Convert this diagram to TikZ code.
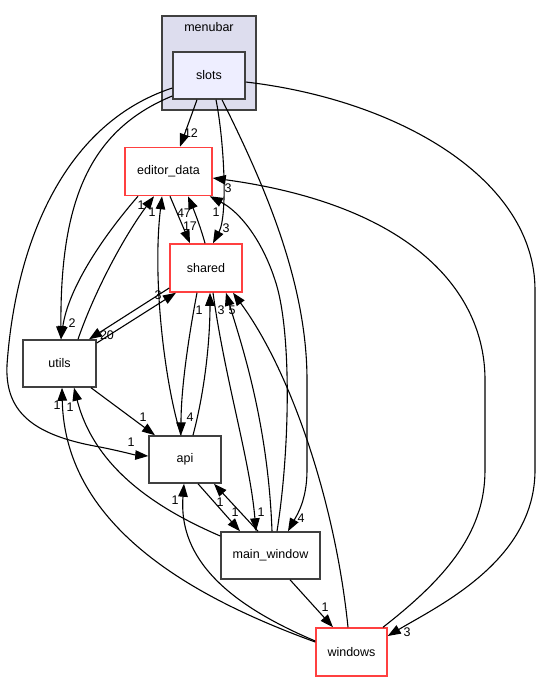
\documentclass[tikz,border=0pt]{standalone}
\usepackage{fontspec}
\setmainfont{Liberation Sans}
\usetikzlibrary{arrows.meta}
\definecolor{redb}{RGB}{255,64,64}
\definecolor{grayb}{RGB}{64,64,64}
\definecolor{clfill}{RGB}{221,221,238}
\definecolor{slfill}{RGB}{238,238,255}
\begin{document}
\begin{tikzpicture}[x=1pt,y=-1pt,
  every node/.style={font=\fontsize{12.5}{15}\selectfont},
  dirbox/.style={draw=grayb,line width=1.5pt,fill=white,minimum width=#1,minimum height=47pt,inner sep=0pt},
  redbox/.style={draw=redb,line width=1.5pt,fill=white,minimum width=#1,minimum height=48pt,inner sep=0pt},
  dep/.style={line width=1.1pt,-{Triangle[length=13pt,width=9.5pt]}},
  lbl/.style={inner sep=0pt}
]
\useasboundingbox[fill=white] (0,0) rectangle (541,681);
% cluster
\node[draw=grayb,line width=1.5pt,fill=clfill,minimum width=94pt,minimum height=94pt,inner sep=0pt] (menubar) at (209,63) {};
\node[lbl] (menubarlabel) at (209,27.5) {menubar};
% nodes
\node[dirbox=72pt,fill=slfill] (slots) at (209,75.5) {slots};
\node[redbox=87pt] (editor_data) at (168.5,171.5) {editor\_data};
\node[redbox=72pt] (shared) at (206,268) {shared};
\node[dirbox=73pt] (utils) at (59.5,363.5) {utils};
\node[dirbox=72pt] (api) at (185,459.5) {api};
\node[dirbox=99pt] (main_window) at (270.5,555.5) {main\_window};
\node[redbox=71pt] (windows) at (351.5,652) {windows};

% edges from slots
\draw[dep] ([xshift=-12]slots.south) -- ([xshift=11.5]editor_data.north);
\draw[dep] ([xshift=7]slots.south) .. controls (224,140) and (228,215) .. ([xshift=7]shared.north);
\draw[dep] ([xshift=13]slots.south) .. controls (262,180) and (307,280) .. (307,380) -- (307,470) .. controls (307,500) and (297,515) .. ([xshift=17.5]main_window.north);
\draw[dep] ([yshift=-6.5]slots.east) .. controls (400,100) and (535,180) .. (535,290) -- (535,470) .. controls (535,560) and (440,605) .. ([yshift=16]windows.east);
\draw[dep] ([yshift=-20.5]slots.west) .. controls (90,130) and (60,200) .. ([xshift=1.5]utils.north);
\draw[dep] ([yshift=-12.5]slots.west) .. controls (60,125) and (15,250) .. (7,365) .. controls (5,410) and (30,435) .. (100,447) .. controls (120,451) and (135,455) .. ([yshift=3.5]api.west);

% editor_data <-> shared
\draw[dep] ([xshift=1.5]editor_data.south) -- ([xshift=-16]shared.north);
\draw[dep] ([xshift=-1]shared.north) .. controls (200,225) and (193,208) .. ([xshift=19.5]editor_data.south);

% into editor_data
\draw[dep] ([xshift=6.5]main_window.north) .. controls (290,450) and (292,330) .. (275,280) .. controls (262,240) and (240,212) .. ([xshift=-3]editor_data.south east);
\draw[dep] ([xshift=31.5]windows.north) .. controls (450,575) and (485,530) .. (485,470) -- (485,380) .. controls (485,290) and (410,205) .. ([yshift=-6.5]editor_data.east);
\draw[dep] ([xshift=18.5]utils.north) .. controls (95,290) and (125,235) .. ([xshift=-14.5]editor_data.south);
\draw[dep] ([xshift=-4]api.north) .. controls (165,385) and (152,280) .. ([xshift=-6.5]editor_data.south);
\draw[dep] ([xshift=-30.5]editor_data.south) .. controls (100,240) and (68,290) .. ([xshift=1.5]utils.north);

% shared <-> utils
\draw[dep] ([yshift=-20]shared.west) -- ([xshift=29.5]utils.north);
\draw[dep] ([yshift=20.5]utils.east) -- ([xshift=-30]shared.south);

% shared bottom
\draw[dep] ([xshift=-9]shared.south) .. controls (188,340) and (181,390) .. ([xshift=-4]api.north);
\draw[dep] ([xshift=8]api.north) .. controls (205,390) and (210,340) .. ([xshift=4]shared.south);
\draw[dep] ([xshift=7]shared.south) .. controls (225,380) and (250,460) .. ([xshift=-14.5]main_window.north);
\draw[dep] ([xshift=1.5]main_window.north) .. controls (268,420) and (240,340) .. ([xshift=20]shared.south);
\draw[dep] ([xshift=-3.5]windows.north) .. controls (335,500) and (290,370) .. ([xshift=27]shared.south);

% api / main_window / windows / utils
\draw[dep] ([xshift=13]api.south) -- ([xshift=-30.5]main_window.north);
\draw[dep] ([xshift=-12.5]main_window.north) -- ([xshift=29]api.south);
\draw[dep] ([yshift=19.5]main_window.west) .. controls (160,510) and (95,470) .. ([xshift=14.5]utils.south);
\draw[dep] ([yshift=10]windows.west) .. controls (200,600) and (65,530) .. ([xshift=2.5]utils.south);
\draw[dep] ([yshift=11]windows.west) .. controls (230,605) and (178,560) .. ([xshift=-1]api.south);
\draw[dep] ([xshift=19.5]main_window.south) -- ([xshift=-18.5]windows.north);
\draw[dep] ([xshift=31.5]utils.south) -- ([xshift=-30]api.north);

% labels
\node[lbl] (l01) at (191,133) {12};
\node[lbl] (l02) at (226,228) {3};
\node[lbl] (l03) at (301,518) {4};
\node[lbl] (l04) at (407,632) {3};
\node[lbl] (l05) at (72,323) {2};
\node[lbl] (l06) at (131,442) {1};
\node[lbl] (l07) at (184,213) {47};
\node[lbl] (l08) at (190,226) {17};
\node[lbl] (l09) at (216,212) {1};
\node[lbl] (l10) at (228,188) {3};
\node[lbl] (l11) at (141,205) {1};
\node[lbl] (l12) at (152,212) {1};
\node[lbl] (l13) at (107,335) {20};
\node[lbl] (l14) at (158,295) {3};
\node[lbl] (l15) at (190,417) {4};
\node[lbl] (l16) at (199,310) {1};
\node[lbl] (l17) at (261,512) {1};
\node[lbl] (l18) at (221,310) {3};
\node[lbl] (l19) at (232,310) {5};
\node[lbl] (l20) at (235,512) {1};
\node[lbl] (l21) at (220,502) {1};
\node[lbl] (l22) at (70,407) {1};
\node[lbl] (l23) at (57,405) {1};
\node[lbl] (l24) at (175,500) {1};
\node[lbl] (l25) at (325,607) {1};
\node[lbl] (l26) at (143,417) {1};
\end{tikzpicture}
\end{document}
